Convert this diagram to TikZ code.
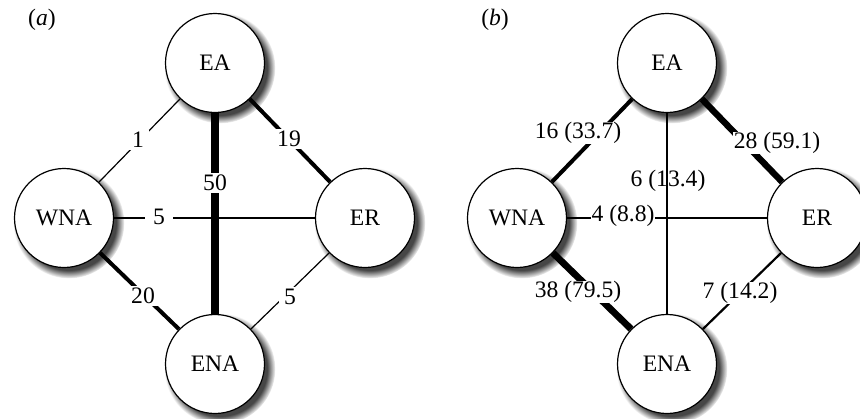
\documentclass[tikz,border=0pt]{standalone}
\usepackage{fontspec}
\setmainfont{Liberation Serif}
\usetikzlibrary{shadows}
\begin{document}
\begin{tikzpicture}[x=0.5pt,y=-0.5pt,
  txt/.style={font=\fontsize{11.8}{14}\selectfont},
  region/.style={circle, draw=black, line width=0.6pt, fill=white, minimum size=49.5pt, inner sep=0pt, txt,
     circular drop shadow={shadow scale=1.12, shadow xshift=2.2pt, shadow yshift=-2.2pt, opacity=0.85, fill=black!85}},
  lab/.style={fill=white, inner xsep=2.5pt, inner ysep=1pt, txt},
  labb/.style={fill=white, inner xsep=0.5pt, inner ysep=0pt, txt},
  labn/.style={inner sep=0pt, txt},
  panel/.style={txt},
  conn/.style={line cap=butt, black}
]
\useasboundingbox (0,0) rectangle (860,418);
% ---------- panel (a)
\node[panel] (pa) at (42,20) {(\textit{a})};
\node[region] (aEA) at (215,63) {EA};
\node[region] (aWNA) at (64,218) {WNA};
\node[region] (aER) at (365,218) {ER};
\node[region] (aENA) at (215,364) {ENA};
\draw[conn, line width=0.6pt] (aWNA) -- (aEA);
\draw[conn, line width=2pt] (aEA) -- (aER);
\draw[conn, line width=3.6pt] (aEA) -- (aENA);
\draw[conn, line width=0.6pt] (aWNA) -- (aER);
\draw[conn, line width=2pt] (aWNA) -- (aENA);
\draw[conn, line width=0.6pt] (aER) -- (aENA);
\node[lab] (l1) at (138,140) {1};
\node[lab] (l19) at (289,139) {19};
\node[lab, inner xsep=1pt] (l50) at (215,183) {50};
\node[lab, inner xsep=4pt] (l5a) at (159,217) {5};
\node[lab] (l20) at (143,296) {20};
\node[lab] (l5b) at (290,297) {5};
% ---------- panel (b)
\node[panel] (pb) at (495,20) {(\textit{b})};
\node[region] (bEA) at (667,63) {EA};
\node[region] (bWNA) at (517,218) {WNA};
\node[region] (bER) at (817,218) {ER};
\node[region] (bENA) at (667,364) {ENA};
\draw[conn, line width=2pt] (bWNA) -- (bEA);
\draw[conn, line width=3.2pt] (bEA) -- (bER);
\draw[conn, line width=0.6pt] (bEA) -- (bENA);
\draw[conn, line width=0.6pt] (bWNA) -- (bER);
\draw[conn, line width=3.4pt] (bWNA) -- (bENA);
\draw[conn, line width=1.1pt] (bER) -- (bENA);
\node[labb] (m16) at (578,133) {16 (33.7)};
\node[labb] (m28) at (777,143) {28 (59.1)};
\node[labn] (m6) at (668,181) {6 (13.4)};
\node[labb] (m4) at (623,216) {4 (8.8)};
\node[labb] (m38) at (578,292) {38 (79.5)};
\node[labb] (m7) at (740,293) {7 (14.2)};
\end{tikzpicture}
\end{document}
